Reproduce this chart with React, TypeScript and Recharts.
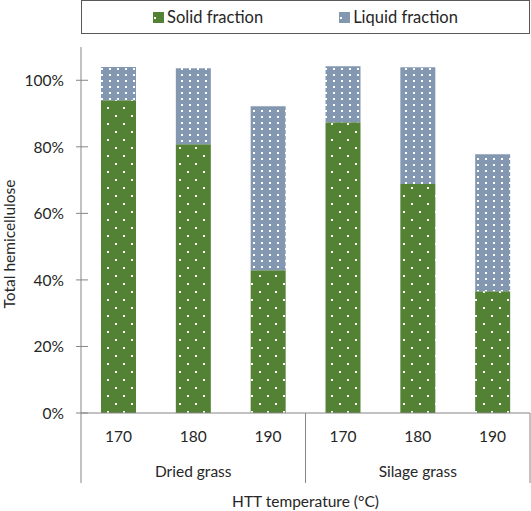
import { BarChart, Bar, XAxis, YAxis, Legend } from 'recharts';

const temps = ['170', '180', '190', '170', '180', '190'];
const groups = ['Dried grass', 'Dried grass', 'Dried grass', 'Silage grass', 'Silage grass', 'Silage grass'];
const solid = [94.0, 80.8, 42.9, 87.4, 68.8, 36.6];
const liquid = [10.0, 22.8, 49.3, 16.8, 35.1, 41.2];
const yTicks = [0, 20, 40, 60, 80, 100];

const data = temps.map((t, i) => ({ temp: t, group: groups[i], solid: solid[i], liquid: liquid[i] }));

const GREEN = '#548235';
const BLUE = '#8497b0';
const AXIS = '#868686';
const FONT = 'Lato, "Liberation Sans", sans-serif';
const TEXT = '#262626';

function YTick(props: any) {
  const { x, y, payload } = props;
  return (
    <g>
      <line x1={x + 12} x2={x + 24} y1={y} y2={y} stroke={AXIS} />
      <text x={x} y={y} textAnchor="end" dominantBaseline="central" fontSize={15.5} fill={TEXT} fontFamily={FONT}>
        {payload.value}%
      </text>
    </g>
  );
}

function XTick(props: any) {
  const { x, y, payload, index, visibleTicksCount } = props;
  const band = 449 / (visibleTicksCount || 6);
  const axisY = y - 8;
  const items: any[] = [];
  if (index % 3 === 0) {
    items.push(<line key="l" x1={x - band / 2} x2={x - band / 2} y1={axisY} y2={axisY + 70} stroke={AXIS} />);
  }
  if (index === (visibleTicksCount || 6) - 1) {
    items.push(<line key="r" x1={x + band / 2} x2={x + band / 2} y1={axisY} y2={axisY + 70} stroke={AXIS} />);
  }
  if (index % 3 === 1) {
    items.push(
      <text key="g" x={x} y={axisY + 58} textAnchor="middle" dominantBaseline="central" fontSize={15.5} fill={TEXT} fontFamily={FONT}>
        {groups[index]}
      </text>
    );
  }
  return (
    <g>
      {items}
      <text x={x} y={axisY + 23} textAnchor="middle" dominantBaseline="central" fontSize={15.5} fill={TEXT} fontFamily={FONT}>
        {payload.value}
      </text>
    </g>
  );
}

function LegendBox() {
  const item = (fill: string, label: string) => (
    <div style={{ display: 'flex', alignItems: 'center' }}>
      <svg width={11} height={11} style={{ marginRight: 3 }}>
        <rect width={11} height={11} fill={fill} />
        <rect x={1} y={5} width={2} height={2} fill="#fff" />
      </svg>
      <span>{label}</span>
    </div>
  );
  return (
    <div
      style={{
        display: 'flex',
        justifyContent: 'center',
        alignItems: 'center',
        gap: 76,
        height: '100%',
        fontFamily: FONT,
        fontSize: 16.5,
        color: TEXT,
      }}
    >
      {item(GREEN, 'Solid fraction')}
      {item(BLUE, 'Liquid fraction')}
    </div>
  );
}

export default function App() {
  return (
    <div style={{ position: 'absolute', left: 0, top: 0, background: '#fff' }}>
      <BarChart width={531} height={511} data={data} margin={{ top: 47, right: 1, left: 0, bottom: 0 }} barCategoryGap={0}>
        <defs>
          <pattern id="dotGreen" patternUnits="userSpaceOnUse" width={16} height={16}>
            <rect width={16} height={16} fill={GREEN} />
            <rect x={3} y={3} width={2} height={2} fill="#fff" />
            <rect x={11} y={11} width={2} height={2} fill="#fff" />
          </pattern>
          <pattern id="dotBlue" patternUnits="userSpaceOnUse" width={8} height={6}>
            <rect width={8} height={6} fill={BLUE} />
            <rect x={5} y={2} width={2} height={2} fill="#fff" />
          </pattern>
        </defs>
        <XAxis
          dataKey="temp"
          height={98}
          axisLine={{ stroke: AXIS }}
          tickLine={false}
          tickSize={0}
          tickMargin={8}
          interval={0}
          tick={<XTick />}
          label={{ value: 'HTT temperature (°C)', position: 'insideBottom', offset: 4, fontSize: 15.5, fill: TEXT, fontFamily: FONT }}
        />
        <XAxis xAxisId="top" orientation="top" dataKey="temp" height={0} tick={false} tickLine={false} axisLine={{ stroke: AXIS }} />
        <YAxis
          width={81}
          domain={[0, 110]}
          ticks={yTicks}
          axisLine={{ stroke: AXIS }}
          tickLine={false}
          tickSize={5}
          tickMargin={12}
          tick={<YTick />}
          label={{
            value: 'Total hemicellulose',
            angle: -90,
            position: 'insideLeft',
            offset: 0,
            dx: 9,
            dy: 14,
            fontSize: 15.5,
            fill: TEXT,
            fontFamily: FONT,
            style: { textAnchor: 'middle' },
          }}
        />
        <YAxis yAxisId="right" orientation="right" width={0} domain={[0, 110]} tick={false} tickLine={false} axisLine={{ stroke: AXIS }} />
        <Legend
          verticalAlign="middle"
          content={<LegendBox />}
          wrapperStyle={{ left: 81, top: 0, width: 449, height: 34, border: '1px solid #595959', boxSizing: 'border-box' }}
        />
        <Bar dataKey="solid" name="Solid fraction" stackId="a" fill="url(#dotGreen)" barSize={35} isAnimationActive={false} />
        <Bar dataKey="liquid" name="Liquid fraction" stackId="a" fill="url(#dotBlue)" barSize={35} isAnimationActive={false} />
      </BarChart>
    </div>
  );
}
